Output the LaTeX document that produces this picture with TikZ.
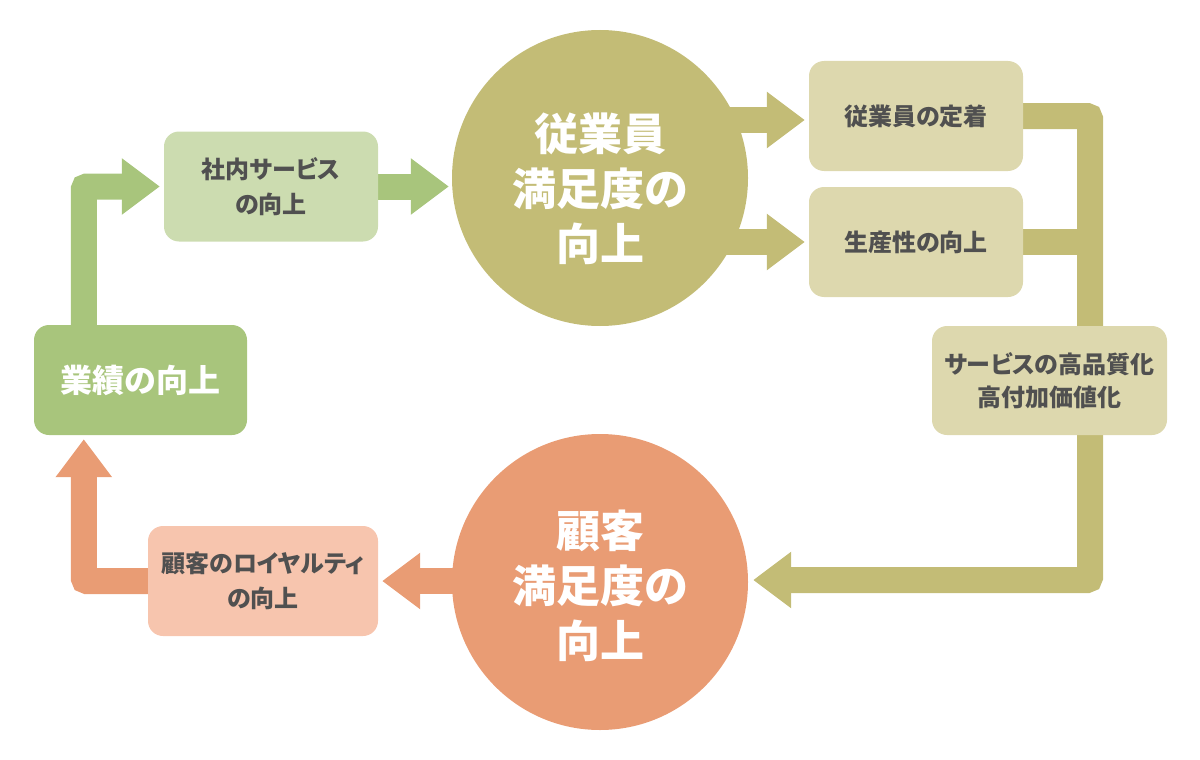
\documentclass[tikz,border=0pt]{standalone}
\usepackage{fontspec}
\setmainfont{Noto Sans CJK JP}[RawFeature=+palt]
\usepackage{tikz}
\usetikzlibrary{arrows.meta,positioning,backgrounds}

\definecolor{grdark}{HTML}{A8C57C}
\definecolor{grlight}{HTML}{CCDCB0}
\definecolor{oldark}{HTML}{C3BC76}
\definecolor{ollight}{HTML}{DDD8AE}
\definecolor{ordark}{HTML}{E99C74}
\definecolor{orlight}{HTML}{F7C5AE}
\definecolor{txtgray}{HTML}{505050}

\begin{document}
\begin{tikzpicture}[
  x=1pt, y=-1pt,
  circ/.style={circle, minimum size=296pt, inner sep=0pt},
  circtxt/.style={align=center, text=white, inner sep=0pt,
                  font=\bfseries\fontsize{44}{55}\selectfont},
  box/.style={rounded corners=15pt, minimum width=214pt, minimum height=110pt,
              inner sep=3pt, align=center, text=txtgray,
              font=\bfseries\fontsize{24}{35}\selectfont},
  arr/.style={line width=26pt, rounded corners=3pt,
              -{Triangle[length=38pt,width=54pt]}}
]
\useasboundingbox (0,0) rectangle (1200,760);

% left column
\node[box, fill=grdark, minimum width=213pt, text=white,
      font=\bfseries\fontsize{32}{36}\selectfont] (perf) at (140.5,380) {業績の向上};
\node[box, fill=grlight] (internal) at (271,186.5) {社内サービス\\の向上};
\node[box, fill=orlight, minimum width=230pt] (loyal) at (263,581) {顧客のロイヤルティ\\の向上};

% circles
\node[circ, fill=oldark,
      label={[circtxt, yshift=-11pt]center:{従業員\\満足度の\\向上}}] (empsat) at (600,178) {};
\node[circ, fill=ordark,
      label={[circtxt, yshift=-4pt]center:{顧客\\満足度の\\向上}}] (custsat) at (600,582) {};

% right column
\node[box, fill=ollight] (retain) at (916,116) {従業員の定着};
\node[box, fill=ollight] (product) at (916,242) {生産性の向上};
\node[box, fill=ollight, minimum width=235pt, minimum height=109pt,
      font=\bfseries\fontsize{24}{33}\selectfont]
  (quality) at (1049.5,380.5) {サービスの高品質化\\高付加価値化};

\coordinate (turn) at (1090,580);

\begin{scope}[on background layer]
\draw[arr, grdark, shorten >=4pt] ([xshift=50pt]perf.north west) |- (internal.west);
\draw[arr, grdark, shorten >=3pt] (internal.east) -- (empsat.west |- internal.east);
\draw[arr, oldark, shorten >=4pt] (empsat.center |- 0,120) -- (retain.west |- 0,120);
\draw[arr, oldark, shorten >=4pt] (empsat.center |- product.west) -- (product.west);
\draw[line width=26pt, oldark] (product.east) -- (product.east -| turn);
\draw[arr, oldark, shorten >=5pt] (retain.east) -| (turn) -- (custsat.east |- turn);
\draw[arr, ordark, shorten >=4pt] (custsat.center |- loyal.east) -- (loyal.east);
\draw[arr, ordark, shorten >=4pt] (loyal.west) -| ([xshift=50pt]perf.south west);
\end{scope}
\end{tikzpicture}
\end{document}
